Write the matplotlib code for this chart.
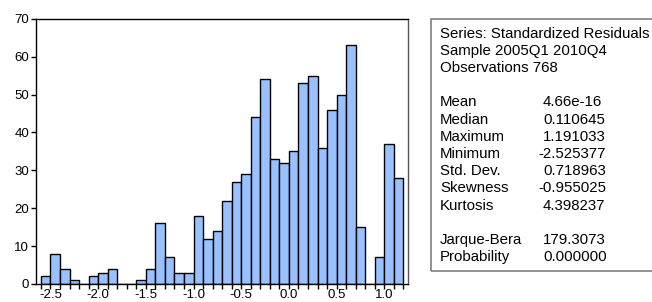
import numpy as np
import matplotlib
matplotlib.use('Agg')
import matplotlib.pyplot as plt
from matplotlib.patches import Rectangle

# histogram of residuals, bin width 0.1 starting at -2.6
bin_edges = np.round(np.arange(-2.6, 1.2001, 0.1), 2)
counts = [2, 8, 4, 1, 0, 2, 3, 4, 0, 0,
          1, 4, 16, 7, 3, 3, 18, 12, 14, 22,
          27, 29, 44, 54, 33, 32, 35, 53, 55, 36,
          46, 50, 63, 15, 0, 7, 37, 28]

header_lines = ['Series: Standardized Residuals', 'Sample 2005Q1 2010Q4', 'Observations 768']
stat_names = ['Mean', 'Median', 'Maximum', 'Minimum', 'Std. Dev.', 'Skewness', 'Kurtosis']
stat_values = ['4.66e-16', '0.110645', '1.191033', '-2.525377', '0.718963', '-0.955025', '4.398237']
test_names = ['Jarque-Bera', 'Probability']
test_values = ['179.3073', '0.000000']

plt.rcParams['font.family'] = ['Liberation Sans', 'DejaVu Sans']

fig = plt.figure(figsize=(6.52, 3.02), dpi=100)
W, H = 652, 302
ax = fig.add_axes([36 / W, 1 - 284 / H, (408.3 - 36) / W, (284 - 18.7) / H])

ax.bar(bin_edges[:-1], counts, width=0.1, align='edge',
       color='#99C0FF', edgecolor='black', linewidth=1.0, zorder=2)

ax.set_xlim(-2.652, 1.252)
ax.set_ylim(0, 70)
ax.set_yticks(range(0, 71, 10))
ax.set_xticks([-2.5, -2.0, -1.5, -1.0, -0.5, 0.0, 0.5, 1.0])
ax.set_xticklabels(['-2.5', '-2.0', '-1.5', '-1.0', '-0.5', '0.0', '0.5', '1.0'])
ax.set_xticks(np.arange(-2.6, 1.21, 0.1), minor=True)
ax.tick_params(axis='both', which='both', direction='out', length=3.5, width=1.0,
               labelsize=9.5, colors='black', pad=1.5)
ax.tick_params(axis='x', which='both', pad=0.3)
for s in ax.spines.values():
    s.set_linewidth(1.0)
ax.spines['right'].set_color('#555555')

# statistics box
box = Rectangle((431 / W, 1 - 270.7 / H), (660 - 431) / W, (270.7 - 19.3) / H,
                transform=fig.transFigure, fill=False, edgecolor='#808080', linewidth=1.2)
fig.patches.append(box)

fs = 10.8
lh = 17.2
y0 = 33.5
xl = 440
xv = 543
dash_w = 4.8

def put(x, row, s):
    fig.text(x / W, 1 - (y0 + row * lh) / H, s, fontsize=fs, ha='left', va='center')

for i, s in enumerate(header_lines):
    put(xl, i, s)
for i, (n, v) in enumerate(zip(stat_names, stat_values)):
    put(xl, 4 + i, n)
    put(xv - dash_w if v.startswith('-') else xv, 4 + i, v)
for i, (n, v) in enumerate(zip(test_names, test_values)):
    put(xl, 12 + i, n)
    put(xv, 12 + i, v)

fig.savefig('out.png', dpi=100)
